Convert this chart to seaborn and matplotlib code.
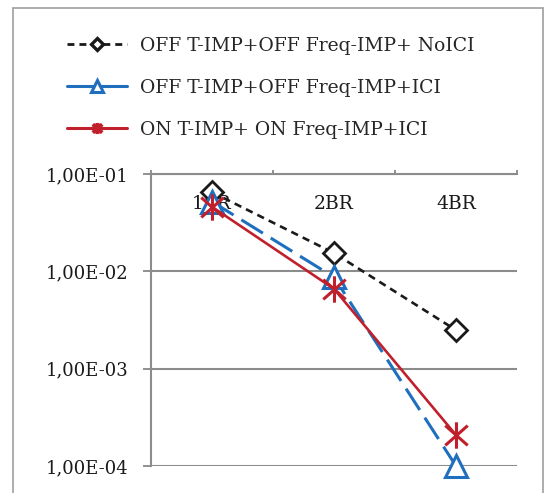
import numpy as np
import pandas as pd
import matplotlib
matplotlib.use("Agg")
import matplotlib.pyplot as plt
from matplotlib.lines import Line2D
from matplotlib.patches import Rectangle
from matplotlib.path import Path
import seaborn as sns

categories = ["1BR", "2BR", "4BR"]
off_noici = [6.5e-2, 1.54e-2, 2.49e-3]
off_ici = [5.2e-2, 8.7e-3, 1.0e-4]
on_ici = [4.6e-2, 6.6e-3, 2.08e-4]
series_names = ["OFF T-IMP+OFF Freq-IMP+ NoICI",
                "OFF T-IMP+OFF Freq-IMP+ICI",
                "ON T-IMP+ ON Freq-IMP+ICI"]
ytick_vals = [1e-1, 1e-2, 1e-3, 1e-4]
ytick_labels = ["1,00E-01", "1,00E-02", "1,00E-03", "1,00E-04"]

sns.set_theme(style="white")
plt.rcParams['font.family'] = ['DejaVu Serif']

DPI = 100
W, H = 546, 493
fig = plt.figure(figsize=(W / DPI, H / DPI), dpi=DPI)

# outer chart-area frame
fig.patches.append(Rectangle((13 / W, -0.02), (543 - 13) / W, 1 - 8 / H + 0.02,
                             transform=fig.transFigure, fill=False,
                             edgecolor="#a6a6a6", lw=1.3))

left, right, top, bottom = 151, 517, 174, 466
ax = fig.add_axes([left / W, 1 - bottom / H, (right - left) / W, (bottom - top) / H])
ax.set_facecolor("none")

x = np.arange(len(categories))
df = pd.DataFrame({
    "x": np.tile(x, 3),
    "y": off_noici + off_ici + on_ici,
    "s": np.repeat(series_names, len(categories)),
})

# asterisk-like marker: vertical stroke plus an X
star = Path([(0, -1), (0, 1), (-0.85, -0.75), (0.85, 0.75), (-0.85, 0.75), (0.85, -0.75)],
            [Path.MOVETO, Path.LINETO, Path.MOVETO, Path.LINETO, Path.MOVETO, Path.LINETO])

BLACK, BLUE, RED = "#1a1a1a", "#1f6fbe", "#c0202c"

sns.lineplot(data=df[df.s == series_names[0]], x="x", y="y", ax=ax, color=BLACK,
             lw=1.9, linestyle=(0, (2.8, 2.0)), marker="D", markersize=11,
             markerfacecolor="white", markeredgecolor=BLACK, markeredgewidth=2.0,
             clip_on=False, legend=False, zorder=3)
sns.lineplot(data=df[df.s == series_names[1]], x="x", y="y", ax=ax, color=BLUE,
             lw=2.2, linestyle=(0, (8.3, 3.0)), marker="^", markersize=16,
             markerfacecolor="white", markeredgecolor=BLUE, markeredgewidth=2.2,
             clip_on=False, legend=False, zorder=4)
sns.lineplot(data=df[df.s == series_names[2]], x="x", y="y", ax=ax, color=RED,
             lw=1.9, marker=star, markersize=19, markeredgecolor=RED,
             markeredgewidth=2.2, clip_on=False, legend=False, zorder=5)

ax.set_yscale("log")
ax.set_ylim(1e-4, 1e-1)
ax.set_xlim(-0.5, 2.5)
ax.set_yticks(ytick_vals)
ax.set_yticklabels(ytick_labels)
ax.yaxis.set_minor_locator(matplotlib.ticker.NullLocator())
ax.tick_params(axis="y", which="major", length=6, width=1.3, color="#888888",
               labelsize=13, pad=10, left=True, labelcolor="#1a1a1a")

ax.xaxis.tick_top()
ax.set_xticks(x)
ax.set_xticklabels(categories)
ax.set_xticks([-0.5, 0.5, 1.5, 2.5], minor=True)
ax.tick_params(axis="x", which="major", length=0, labelsize=13.5, pad=-28,
               labelcolor="#1a1a1a")
ax.tick_params(axis="x", which="minor", length=3, width=1.3, color="#888888", top=True)
ax.set_xlabel("")
ax.set_ylabel("")

ax.grid(axis="y", which="major", color="#8c8c8c", lw=1.5)
ax.grid(axis="x", visible=False)
for side in ["right", "bottom"]:
    ax.spines[side].set_visible(False)
for side in ["left", "top"]:
    ax.spines[side].set_color("#8c8c8c")
    ax.spines[side].set_linewidth(1.5)

handles = [
    Line2D([], [], color=BLACK, lw=2.0, linestyle=(0, (2.5, 1.8)), marker="D", markersize=6,
           markerfacecolor="white", markeredgecolor=BLACK, markeredgewidth=2.4),
    Line2D([], [], color=BLUE, lw=2.2, marker="^", markersize=8,
           markerfacecolor="white", markeredgecolor=BLUE, markeredgewidth=2.2),
    Line2D([], [], color=RED, lw=2.2, marker=star, markersize=8,
           markeredgecolor=RED, markeredgewidth=2.8),
]
fig.legend(handles, series_names, loc="upper left", bbox_to_anchor=(67 / W, 1 - 37 / H),
           frameon=False, fontsize=13.5, handlelength=3.2, handletextpad=0.7,
           labelspacing=1.27, borderaxespad=0, borderpad=0)

fig.savefig("out.png", dpi=DPI)
